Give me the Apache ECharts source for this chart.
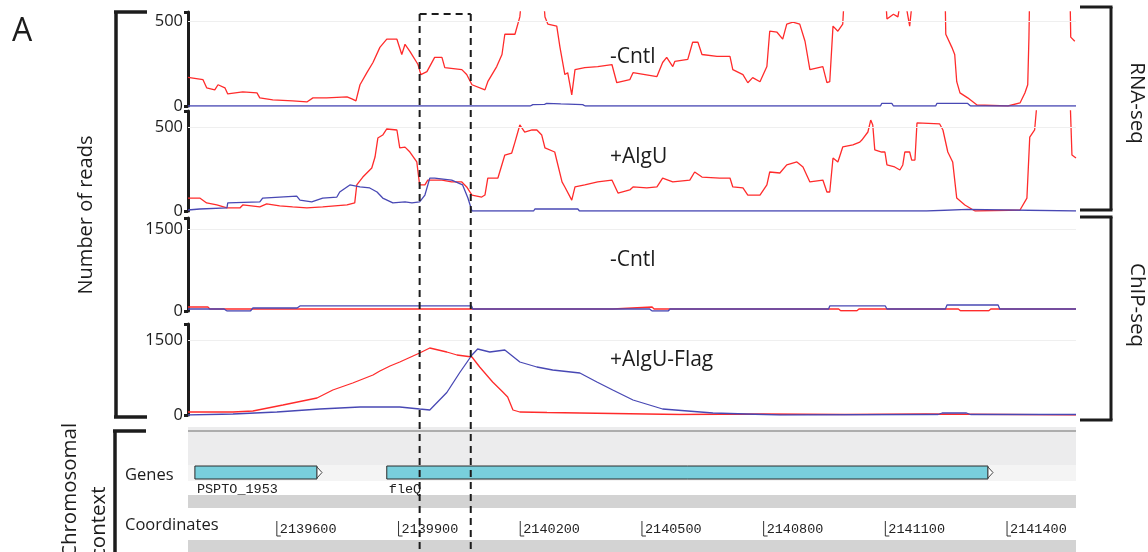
<!DOCTYPE html>
<html><head><meta charset="utf-8">
<script src="https://cdn.jsdelivr.net/npm/echarts@6/dist/echarts.min.js"></script>
<style>html,body{margin:0;padding:0;background:#fff}#c{width:1148px;height:552px}</style>
</head><body><div id="c"></div>
<script>
// ---- data (genomic position in bp, number of reads) ----
const xRange = [2139381, 2141570];
const coordTicks = [2139600, 2139900, 2140200, 2140500, 2140800, 2141100, 2141400];
const boxRange = [2139952, 2140078];
const panelLabels = ['-Cntl', '+AlgU', '-Cntl', '+AlgU-Flag'];
const yTickLabels = [500, 500, 1500, 1500];
const geneNames = ['PSPTO_1953', 'fleQ'];
const geneStart = [2139398, 2139871];
const geneEnd = [2139699, 2141353];

const rnaCntlRed = [[2139381,168],[2139418,155],[2139427,107],[2139447,95],[2139455,125],[2139472,107],[2139479,71],[2139516,83],[2139551,77],[2139558,48],[2139590,36],[2139639,30],[2139674,24],[2139689,48],[2139723,48],[2139773,54],[2139785,42],[2139795,30],[2139805,125],[2139822,196],[2139837,256],[2139854,345],[2139871,393],[2139896,393],[2139908,303],[2139916,363],[2139928,321],[2139948,244],[2139955,185],[2139970,202],[2139989,286],[2140007,286],[2140014,226],[2140056,214],[2140068,185],[2140081,125],[2140113,95],[2140120,143],[2140142,232],[2140155,303],[2140162,422],[2140187,422],[2140199,524],[2140206,700],[2140255,700],[2140261,524],[2140268,482],[2140290,470],[2140298,345],[2140310,185],[2140317,196],[2140327,65],[2140335,214],[2140359,226],[2140391,232],[2140426,244],[2140438,137],[2140470,155],[2140478,196],[2140537,173],[2140551,256],[2140561,286],[2140576,232],[2140581,262],[2140613,274],[2140625,375],[2140638,375],[2140648,303],[2140685,292],[2140717,292],[2140724,214],[2140749,185],[2140761,137],[2140773,167],[2140791,143],[2140808,232],[2140815,440],[2140833,434],[2140847,393],[2140857,482],[2140872,494],[2140889,482],[2140902,381],[2140914,214],[2140946,232],[2140956,137],[2140963,143],[2140971,470],[2140983,440],[2140995,482],[2141000,700],[2141099,700],[2141104,512],[2141120,540],[2141131,524],[2141143,700],[2141160,470],[2141170,700],[2141247,700],[2141249,422],[2141264,345],[2141271,303],[2141276,143],[2141284,77],[2141303,48],[2141326,6],[2141402,0],[2141432,18],[2141444,77],[2141451,125],[2141454,405],[2141456,700],[2141555,700],[2141557,405],[2141567,381]];
const rnaCntlBlue = [[2139381,0],[2140225,0],[2140231,8],[2140260,10],[2140265,15],[2140300,12],[2140354,8],[2140360,0],[2141088,0],[2141091,15],[2141116,15],[2141120,0],[2141224,0],[2141227,15],[2141303,15],[2141310,0],[2141570,0]];
const rnaAlgURed = [[2139381,77],[2139410,77],[2139427,48],[2139452,36],[2139477,18],[2139509,18],[2139516,36],[2139558,24],[2139575,42],[2139607,30],[2139639,24],[2139674,18],[2139713,24],[2139773,36],[2139792,48],[2139797,155],[2139812,202],[2139834,256],[2139842,321],[2139849,434],[2139861,452],[2139871,488],[2139896,482],[2139903,375],[2139916,380],[2139928,351],[2139945,292],[2139952,155],[2139965,155],[2139972,184],[2140007,184],[2140031,173],[2140056,173],[2140068,143],[2140081,95],[2140105,83],[2140113,95],[2140120,196],[2140145,196],[2140162,333],[2140179,345],[2140187,410],[2140199,512],[2140211,470],[2140229,482],[2140241,482],[2140253,452],[2140261,375],[2140285,351],[2140303,173],[2140310,143],[2140327,65],[2140335,143],[2140359,155],[2140391,173],[2140426,184],[2140441,107],[2140470,125],[2140478,143],[2140512,137],[2140537,143],[2140551,196],[2140576,173],[2140618,184],[2140630,232],[2140648,202],[2140692,196],[2140717,196],[2140724,143],[2140749,137],[2140761,95],[2140791,95],[2140808,155],[2140815,232],[2140840,226],[2140857,274],[2140882,292],[2140897,262],[2140914,173],[2140946,184],[2140956,113],[2140963,113],[2140971,315],[2140983,292],[2140995,381],[2141020,393],[2141037,410],[2141042,422],[2141057,470],[2141064,541],[2141069,512],[2141074,363],[2141091,351],[2141099,351],[2141104,274],[2141123,262],[2141136,244],[2141143,274],[2141148,351],[2141160,351],[2141165,303],[2141173,303],[2141178,524],[2141234,518],[2141242,482],[2141254,351],[2141266,292],[2141276,77],[2141296,36],[2141321,0],[2141432,6],[2141449,77],[2141456,440],[2141468,482],[2141476,700],[2141555,700],[2141560,333],[2141570,315]];
const rnaAlgUBlue = [[2139381,6],[2139410,12],[2139477,18],[2139479,48],[2139558,54],[2139565,77],[2139649,89],[2139657,65],[2139686,54],[2139713,77],[2139748,83],[2139755,113],[2139780,155],[2139805,143],[2139829,137],[2139847,113],[2139861,77],[2139886,48],[2139916,54],[2139933,48],[2139952,54],[2139965,95],[2139977,196],[2139989,196],[2140031,184],[2140058,155],[2140071,77],[2140081,0],[2140233,0],[2140236,12],[2140342,12],[2140346,0],[2141202,0],[2141205,10],[2141303,10],[2141307,0],[2141570,0]];
const chipCntlRed = [[2139381,73],[2139430,73],[2139435,37],[2140428,37],[2140432,73],[2140525,73],[2140530,37],[2140985,37],[2140990,5],[2141030,5],[2141035,37],[2141280,37],[2141285,5],[2141355,5],[2141360,37],[2141570,37]];
const chipCntlBlue = [[2139381,37],[2139470,37],[2139477,0],[2139535,0],[2139541,55],[2139650,55],[2139657,92],[2140080,92],[2140083,37],[2140519,37],[2140525,0],[2140565,0],[2140569,37],[2140960,37],[2140963,92],[2141100,92],[2141104,37],[2141248,37],[2141252,110],[2141378,110],[2141382,37],[2141570,37]];
const chipFlagRed = [[2139381,60],[2139492,60],[2139541,80],[2139615,200],[2139699,340],[2139738,500],[2139787,640],[2139837,800],[2139854,880],[2139879,980],[2139903,1060],[2139952,1240],[2139977,1340],[2140019,1260],[2140044,1200],[2140081,1160],[2140100,960],[2140132,660],[2140157,460],[2140169,360],[2140182,100],[2140199,60],[2140266,50],[2140347,40],[2140593,10],[2140800,20],[2141000,10],[2141200,20],[2141400,10],[2141570,0]];
const chipFlagBlue = [[2139381,0],[2139492,20],[2139600,60],[2139706,120],[2139805,160],[2139903,160],[2139952,120],[2139977,100],[2140019,450],[2140051,850],[2140081,1200],[2140095,1320],[2140125,1260],[2140162,1300],[2140199,1060],[2140241,960],[2140280,900],[2140347,840],[2140389,660],[2140428,500],[2140478,300],[2140551,120],[2140675,40],[2140840,0],[2141230,10],[2141240,40],[2141300,40],[2141310,10],[2141570,10]];

// ---- layout ----
const RED = '#ff2b2b', BLUE = '#4848b4', INK = '#1c1c1c';
const FONT = '"Open Sans", "Noto Sans", sans-serif';
const panels = [
  {top: 12, height: 94, max: 553, red: rnaCntlRed, blue: rnaCntlBlue},
  {top: 111, height: 100, max: 595, red: rnaAlgURed, blue: rnaAlgUBlue},
  {top: 218, height: 93, max: 1701, red: chipCntlRed, blue: chipCntlBlue},
  {top: 324, height: 91, max: 1820, red: chipFlagRed, blue: chipFlagBlue}
];
const L = 188, R = 1148 - 1076;

const grids = panels.map(p => ({left: L, right: R, top: p.top, height: p.height}));
grids.push({left: L, right: R, top: 465, height: 15});   // genes track
grids.push({left: L, right: R, top: 521, height: 15});   // coordinates track

const xAxes = grids.map((g, i) => ({type: 'value', gridIndex: i, min: xRange[0], max: xRange[1], show: false}));
const yAxes = panels.map((p, i) => ({
  type: 'value', gridIndex: i, min: 0, max: p.max,
  axisLine: {show: true, lineStyle: {color: INK, width: 3}},
  axisTick: {show: true, customValues: [0, p.max], length: 4, lineStyle: {color: INK, width: 3}},
  axisLabel: {customValues: [0, yTickLabels[i]], formatter: v => String(v), color: INK, fontSize: 16.5, fontFamily: FONT, margin: 5, padding: [0, 0, 10, 0]},
  splitLine: {show: false}
}));
yAxes.push({type: 'value', gridIndex: 4, min: 0, max: 1, show: false});
yAxes.push({type: 'value', gridIndex: 5, min: 0, max: 1, show: false});

const series = [];
panels.forEach((p, i) => {
  series.push({type: 'line', xAxisIndex: i, yAxisIndex: i, data: p.red, showSymbol: false, clip: true,
    lineStyle: {color: RED, width: 1.3}, itemStyle: {color: RED}, z: 3,
    markLine: {silent: true, symbol: 'none', label: {show: false},
      lineStyle: {color: '#efefef', width: 1, type: 'solid'}, data: [{yAxis: yTickLabels[i]}]}});
  series.push({type: 'line', xAxisIndex: i, yAxisIndex: i, data: p.blue, showSymbol: false, clip: true,
    lineStyle: {color: BLUE, width: 1.3}, itemStyle: {color: BLUE}, z: 3});
});

const geneData = geneNames.map((n, i) => [geneStart[i], geneEnd[i]]);
series.push({
  type: 'custom', xAxisIndex: 4, yAxisIndex: 4, data: geneData, z: 5,
  encode: {x: [0, 1]},
  renderItem: function (params, api) {
    const cs = params.coordSys;
    const s = api.coord([api.value(0), 0]);
    const e = api.coord([api.value(1), 0]);
    const top = cs.y + 1, h = cs.height - 2;
    return {type: 'group', children: [
      {type: 'rect', shape: {x: s[0], y: top, width: e[0] - s[0], height: h},
        style: {fill: '#79cfdc', stroke: '#2a2a2a', lineWidth: 1}},
      {type: 'polygon', shape: {points: [[e[0], top + 1], [e[0] + 5, top + h / 2], [e[0], top + h - 1]]},
        style: {fill: '#ffffff', stroke: '#444', lineWidth: 1}},
      {type: 'text', x: s[0] + 2, y: top + h + 10,
        style: {text: geneNames[params.dataIndex], fill: '#222', font: '13.5px "Liberation Mono", monospace', textVerticalAlign: 'middle'}}
    ]};
  }
});
series.push({
  type: 'custom', xAxisIndex: 5, yAxisIndex: 5, data: coordTicks.map(v => [v]), z: 5,
  encode: {x: 0},
  renderItem: function (params, api) {
    const cs = params.coordSys;
    const p = api.coord([api.value(0), 0]);
    const b = cs.y + cs.height;
    return {type: 'group', children: [
      {type: 'polyline', shape: {points: [[p[0], cs.y], [p[0], b], [p[0] + 4, b]]},
        style: {stroke: '#333', lineWidth: 1, fill: null}},
      {type: 'text', x: p[0] + 3, y: cs.y + cs.height / 2 + 1,
        style: {text: String(api.value(0)), fill: '#222', font: '13.5px "Liberation Mono", monospace', textVerticalAlign: 'middle'}}
    ]};
  }
});

const chart = echarts.init(document.getElementById('c'), null, {renderer: 'canvas'});
chart.setOption({
  animation: false, backgroundColor: '#ffffff',
  grid: grids, xAxis: xAxes, yAxis: yAxes, series: series
});

// ---- decorations ----
const pLeft = L, pRight = 1148 - R;
const g = [];
function line(x1, y1, x2, y2, w, dash) {
  g.push({type: 'line', shape: {x1, y1, x2, y2}, z: 50,
    style: {stroke: INK, lineWidth: w, lineDash: dash || null}});
}
function text(t, x, y, size, rot, align) {
  g.push({type: 'text', x, y, rotation: rot || 0, z: 50,
    style: {text: t, fill: INK, font: size + 'px ' + FONT, textAlign: align || 'center', textVerticalAlign: 'middle'}});
}
function band(y, h, color) {
  g.push({type: 'rect', shape: {x: pLeft, y, width: pRight - pLeft, height: h}, z: -10, style: {fill: color}});
}
band(427, 38, '#ececed');
band(465, 16, '#f4f4f4');
band(495, 13, '#d3d3d3');
band(540, 12, '#d3d3d3');
g.push({type: 'line', shape: {x1: pLeft, y1: 431, x2: pRight, y2: 431}, z: -5, style: {stroke: '#6f6f6f', lineWidth: 1.2}});

// panel titles
[57, 157, 260, 360].forEach((y, i) => text(panelLabels[i], 610, y, 21, 0, 'left'));
text('A', 12, 32, 32, 0, 'left');
// left bracket: Number of reads
line(116, 12, 116, 417, 3.5); line(114, 12, 147, 12, 3.5); line(114, 417, 147, 417, 3.5);
text('Number of reads', 86, 215, 20, Math.PI / 2);
// right brackets
line(1111, 7, 1111, 210, 3); line(1080, 7, 1112.5, 7, 3); line(1080, 210, 1112.5, 210, 3);
text('RNA-seq', 1137, 103, 20.5, -Math.PI / 2);
line(1111, 217, 1111, 420, 3); line(1080, 217, 1112.5, 217, 3); line(1080, 420, 1112.5, 420, 3);
text('ChIP-seq', 1137, 305, 20.5, -Math.PI / 2);
// chromosomal context bracket
line(115, 431, 115, 552, 3.5); line(113, 431, 146, 431, 3.5);
text('Chromosomal', 70, 558, 20.5, Math.PI / 2, 'left');
text('context', 99, 558, 20.5, Math.PI / 2, 'left');
text('Genes', 125, 475, 16.5, 0, 'left');
text('Coordinates', 125, 525, 16.5, 0, 'left');
// dashed highlight box
const bx1 = chart.convertToPixel({xAxisIndex: 0}, boxRange[0]);
const bx2 = chart.convertToPixel({xAxisIndex: 0}, boxRange[1]);
const dash = [7, 5];
line(bx1, 14, bx1, 552, 2, dash);
line(bx2, 14, bx2, 552, 2, dash);
line(bx1, 14, bx2, 14, 2, dash);

chart.setOption({graphic: {elements: g}});
</script>
</body></html>
